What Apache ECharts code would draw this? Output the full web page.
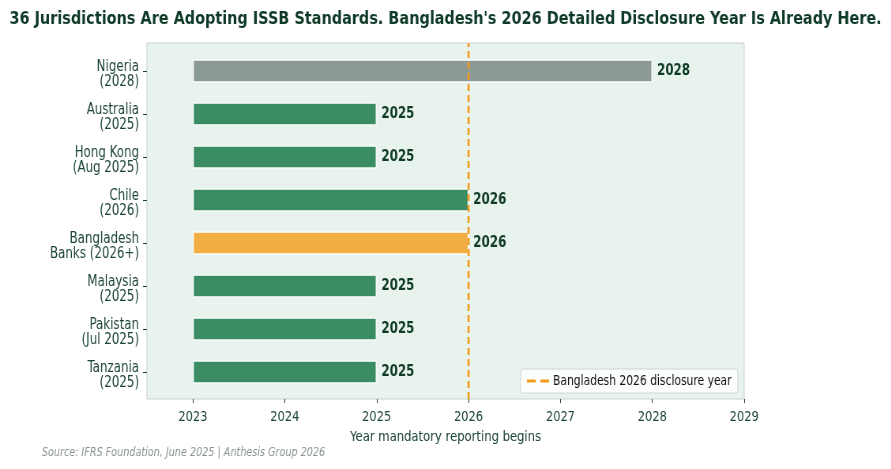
<!DOCTYPE html>
<html>
<head>
<meta charset="utf-8">
<title>ISSB adoption</title>
<script src="https://cdn.jsdelivr.net/npm/echarts@6/dist/echarts.min.js"></script>
<style>
  html, body { margin: 0; padding: 0; background: #fff; width: 891px; height: 469px; overflow: hidden; }
  /* the reference text is horizontally squeezed, so draw wide and squeeze */
  #chart { width: 1128px; height: 469px; transform: scaleX(0.79); transform-origin: 0 0; }
</style>
</head>
<body>
<div id="chart"></div>
<script>
// data
var jurisdictions = ['Nigeria\n(2028)', 'Australia\n(2025)', 'Hong Kong\n(Aug 2025)', 'Chile\n(2026)',
  'Bangladesh\nBanks (2026+)', 'Malaysia\n(2025)', 'Pakistan\n(Jul 2025)', 'Tanzania\n(2025)'];
var startYears = [2023, 2023, 2023, 2023, 2023, 2023, 2023, 2023];
var endYears = [2028, 2025, 2025, 2026, 2026, 2025, 2025, 2025];
var barKinds = ['future', 'peer', 'peer', 'peer', 'bangladesh', 'peer', 'peer', 'peer'];
var yearTicks = [2023, 2024, 2025, 2026, 2027, 2028, 2029];
var bangladeshYear = 2026;

var kindColor = { future: '#8c9a97', peer: '#3a8c63', bangladesh: '#f2ae45' };
var FONT = '"DejaVu Sans", sans-serif';
var DARK = '#0f3a28';
var TEXT = '#1d4535';

var chart = echarts.init(document.getElementById('chart'));

chart.setOption({
  animation: false,
  title: {
    text: "36 Jurisdictions Are Adopting ISSB Standards. Bangladesh's 2026 Detailed Disclosure Year Is Already Here.",
    left: 'center', top: 5,
    textStyle: { fontFamily: FONT, fontSize: 18.3, fontWeight: 'bold', color: DARK }
  },
  graphic: [{
    type: 'text', left: 53, top: 447,
    style: { text: 'Source: IFRS Foundation, June 2025 | Anthesis Group 2026', fontFamily: FONT,
      fontSize: 12.2, fontStyle: 'italic', fill: '#8a948f' }
  }],
  legend: {
    data: [{ name: 'Bangladesh 2026 disclosure year', icon: 'path://M0,0h11v3h-11z M17,0h11v3h-11z' }],
    right: 194, bottom: 76, itemWidth: 28, itemHeight: 3, itemGap: 10,
    backgroundColor: 'rgba(255,255,255,0.85)', borderColor: '#cfd6d2', borderWidth: 1, borderRadius: 3,
    padding: [5, 8],
    textStyle: { fontFamily: FONT, fontSize: 13.6, color: '#111' }
  },
  grid: [
    // plot frame
    { left: 186, right: 186, top: 43, bottom: 70, show: true, backgroundColor: '#e7f3ec',
      borderColor: '#c9d1cd', borderWidth: 1 },
    // bars
    { left: 186, right: 186, top: 49.5, bottom: 75.5 },
    // category labels, sitting a little below the ticks
    { left: 186, right: 186, top: 53, bottom: 72 }
  ],
  xAxis: [
    { type: 'value', gridIndex: 0, min: 2022.5, max: 2029,
      name: 'Year mandatory reporting begins', nameLocation: 'middle', nameGap: 31,
      nameTextStyle: { fontFamily: FONT, fontSize: 14.7, color: TEXT },
      axisLine: { show: false }, splitLine: { show: false },
      axisTick: { show: true, customValues: yearTicks, length: 4, lineStyle: { color: TEXT } },
      axisLabel: { customValues: yearTicks, margin: 11, fontFamily: FONT, fontSize: 14.5, color: TEXT,
        formatter: function (v) { return String(v); } } },
    { type: 'value', gridIndex: 1, min: 2022.5, max: 2029, show: false },
    { type: 'value', gridIndex: 2, min: 2022.5, max: 2029, show: false }
  ],
  yAxis: [
    { type: 'value', gridIndex: 0, min: 0, max: 1, show: false },
    { type: 'category', gridIndex: 1, data: jurisdictions, inverse: true,
      axisLine: { show: false }, axisLabel: { show: false },
      axisTick: { show: true, alignWithLabel: true, interval: 0, length: 5, lineStyle: { color: TEXT } } },
    { type: 'category', gridIndex: 2, data: jurisdictions, inverse: true,
      axisLine: { show: false }, axisTick: { show: false },
      axisLabel: { interval: 0, margin: 10, fontFamily: FONT, fontSize: 15, lineHeight: 15.5, color: TEXT,
        align: 'right' } }
  ],
  series: [
    { type: 'bar', xAxisIndex: 1, yAxisIndex: 1, stack: 'span', silent: true,
      itemStyle: { color: 'transparent' }, data: startYears },
    { type: 'bar', xAxisIndex: 1, yAxisIndex: 1, stack: 'span', barWidth: 23,
      data: endYears.map(function (y, i) {
        return { value: y - startYears[i], itemStyle: { color: kindColor[barKinds[i]] } };
      }),
      itemStyle: { borderColor: '#ffffff', borderWidth: 1.2 },
      label: { show: true, position: 'right', distance: 6, fontFamily: FONT, fontSize: 15,
        fontWeight: 'bold', color: DARK,
        formatter: function (p) { return String(endYears[p.dataIndex]); } } },
    { name: 'Bangladesh 2026 disclosure year', type: 'line', xAxisIndex: 0, yAxisIndex: 0, z: 10,
      symbol: 'none', itemStyle: { color: '#f39b1c' },
      lineStyle: { color: '#f39b1c', width: 2.6, type: [7, 4] },
      data: [[bangladeshYear, 0], [bangladeshYear, 1]] }
  ]
});
</script>
</body>
</html>
